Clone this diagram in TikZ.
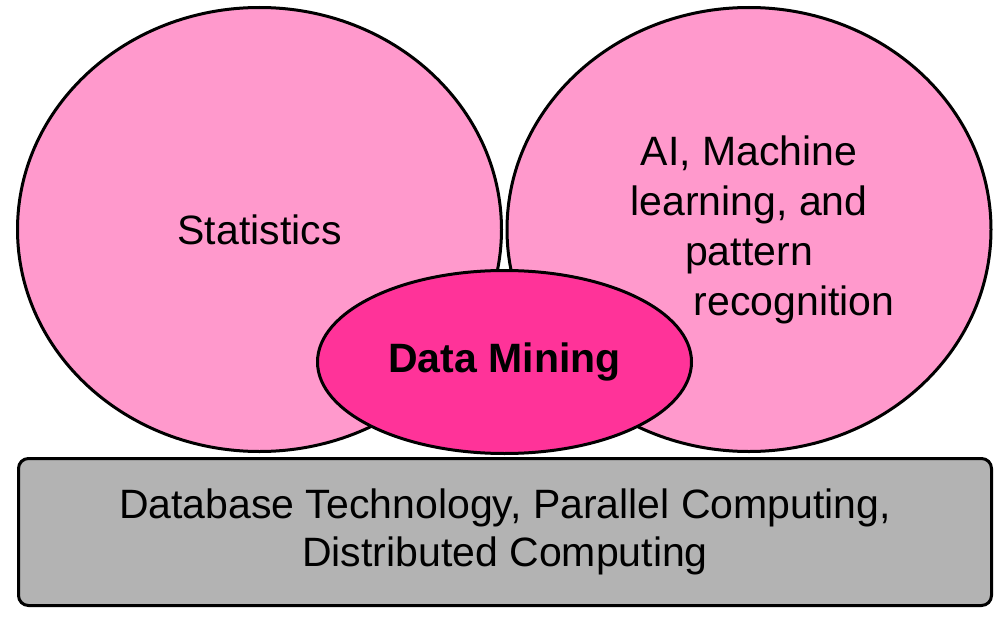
\documentclass[tikz,border=0pt]{standalone}
\usepackage{fontspec}
\setmainfont{Liberation Sans}
\usetikzlibrary{shapes.geometric}
\definecolor{lightpink}{RGB}{255,153,204}
\definecolor{hotpink}{RGB}{255,51,153}
\definecolor{basegray}{RGB}{179,179,179}

\begin{document}
\begin{tikzpicture}[%
  x=1pt, y=-1pt,
  field/.style={ellipse, draw, line width=3pt, fill=lightpink, inner sep=0pt,
    minimum width=484pt, minimum height=444pt, align=center,
    font=\fontsize{41}{50}\selectfont},
  core/.style={ellipse, draw, line width=3pt, fill=hotpink, inner sep=0pt,
    minimum width=374pt, minimum height=183pt,
    font=\fontsize{41}{50}\selectfont\bfseries},
  base/.style={rectangle, rounded corners=10pt, draw, line width=3pt,
    fill=basegray, inner sep=0pt, minimum width=973pt, minimum height=147pt,
    align=center, font=\fontsize{41}{48}\selectfont}]
\useasboundingbox (0,0) rectangle (1002,618);
\node[field] (stats) at (259.5,229.5) {Statistics};
\node[field] (ml) at (749,229.5) {AI, Machine\\learning, and\\pattern\\\hspace*{2.2em}recognition};
\node[base] (db) at (505,532) {Database Technology, Parallel Computing,\\Distributed Computing};
\node[core] (dm) at (504.5,362) {Data Mining};
\end{tikzpicture}
\end{document}
